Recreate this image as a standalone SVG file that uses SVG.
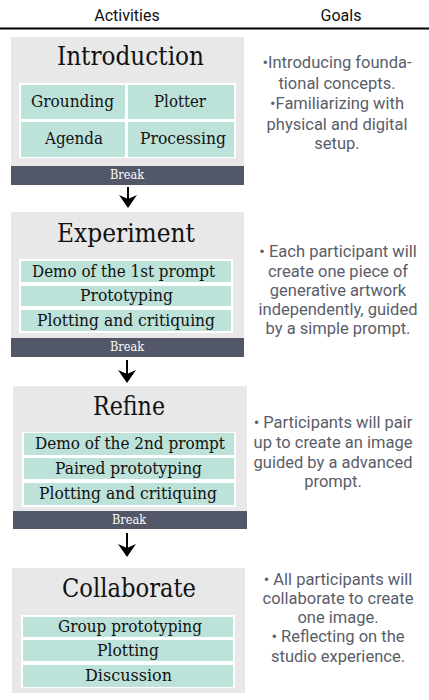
<svg xmlns="http://www.w3.org/2000/svg" width="429" height="700" viewBox="0 0 429 700">
<defs>
<style>
.bg{fill:#e8e8e8}
.wt{fill:#ffffff}
.cell{fill:#bde2da}
.brk{fill:#535869}
.hd{font-family:Roboto,"Liberation Sans",sans-serif;font-size:16px;fill:#111;text-anchor:middle}
.ttl{font-family:"DejaVu Serif","Liberation Serif",serif;font-size:26px;fill:#111;text-anchor:middle}
.act{font-family:"DejaVu Serif","Liberation Serif",serif;font-size:16.5px;fill:#111;text-anchor:middle}
.btx{font-family:"DejaVu Serif","Liberation Serif",serif;font-size:12px;fill:#fff;text-anchor:middle}
.goal{font-family:Roboto,"Liberation Sans",sans-serif;font-size:16.5px;fill:#5a5d69;text-anchor:middle}
.arr{stroke:#000;stroke-width:2;fill:none}
</style>
</defs>
<rect width="429" height="700" fill="#fff"/>
<g id="header">
<text class="hd" x="127" y="21">Activities</text>
<text class="hd" x="341" y="21">Goals</text>
<line x1="0" y1="28.5" x2="429" y2="28.5" stroke="#000" stroke-width="2"/>
</g>
<g id="introduction">
<rect class="bg" x="11" y="37" width="233" height="130"/>
<text class="ttl" x="130.5" y="65" textLength="147" lengthAdjust="spacingAndGlyphs">Introduction</text>
<rect class="wt" x="19" y="83" width="217" height="75"/>
<rect class="cell" x="21" y="85" width="104" height="34"/>
<rect class="cell" x="128" y="85" width="106" height="34"/>
<rect class="cell" x="21" y="122" width="104" height="35"/>
<rect class="cell" x="128" y="122" width="106" height="35"/>
<text class="act" x="72.5" y="107" textLength="83" lengthAdjust="spacingAndGlyphs">Grounding</text>
<text class="act" x="180" y="107" textLength="52" lengthAdjust="spacingAndGlyphs">Plotter</text>
<text class="act" x="74" y="144" textLength="58" lengthAdjust="spacingAndGlyphs">Agenda</text>
<text class="act" x="183" y="144" textLength="86" lengthAdjust="spacingAndGlyphs">Processing</text>
<rect class="brk" x="11" y="166" width="233" height="19"/>
<text class="btx" x="127" y="179" textLength="34" lengthAdjust="spacingAndGlyphs">Break</text>
</g>
<g id="introduction-goals">
<text class="goal" x="337" y="68">•Introducing founda-</text>
<text class="goal" x="337" y="89">tional concepts.</text>
<text class="goal" x="337" y="109">•Familiarizing with</text>
<text class="goal" x="337" y="130">physical and digital</text>
<text class="goal" x="337" y="149">setup.</text>
</g>
<g id="experiment">
<rect class="bg" x="11" y="212" width="233" height="127"/>
<text class="ttl" x="126" y="242" textLength="138" lengthAdjust="spacingAndGlyphs">Experiment</text>
<rect class="wt" x="19" y="259" width="214" height="74"/>
<rect class="cell" x="21" y="261" width="210" height="21"/>
<rect class="cell" x="21" y="286" width="210" height="20"/>
<rect class="cell" x="21" y="310" width="210" height="21"/>
<text class="act" x="123.5" y="277" textLength="183" lengthAdjust="spacingAndGlyphs">Demo of the 1st prompt</text>
<text class="act" x="126.5" y="301" textLength="93" lengthAdjust="spacingAndGlyphs">Prototyping</text>
<text class="act" x="126" y="326" textLength="178" lengthAdjust="spacingAndGlyphs">Plotting and critiquing</text>
<rect class="brk" x="11" y="338" width="233" height="19"/>
<text class="btx" x="127" y="351" textLength="34" lengthAdjust="spacingAndGlyphs">Break</text>
</g>
<g id="experiment-goals">
<text class="goal" x="338" y="257">• Each participant will</text>
<text class="goal" x="338" y="277">create one piece of</text>
<text class="goal" x="338" y="296">generative artwork</text>
<text class="goal" x="338" y="315">independently, guided</text>
<text class="goal" x="338" y="334">by a simple prompt.</text>
</g>
<g id="refine">
<rect class="bg" x="13" y="386" width="234" height="126"/>
<text class="ttl" x="129" y="415" textLength="72" lengthAdjust="spacingAndGlyphs">Refine</text>
<rect class="wt" x="22" y="432" width="214" height="75"/>
<rect class="cell" x="24" y="433" width="210" height="22"/>
<rect class="cell" x="24" y="458" width="210" height="21"/>
<rect class="cell" x="24" y="483" width="210" height="22"/>
<text class="act" x="130" y="449" textLength="190" lengthAdjust="spacingAndGlyphs">Demo of the 2nd prompt</text>
<text class="act" x="128.5" y="474" textLength="147" lengthAdjust="spacingAndGlyphs">Paired prototyping</text>
<text class="act" x="128" y="499" textLength="178" lengthAdjust="spacingAndGlyphs">Plotting and critiquing</text>
<rect class="brk" x="13" y="511" width="234" height="18"/>
<text class="btx" x="129" y="524" textLength="34" lengthAdjust="spacingAndGlyphs">Break</text>
</g>
<g id="refine-goals">
<text class="goal" x="333" y="428">• Participants will pair</text>
<text class="goal" x="333" y="448">up to create an image</text>
<text class="goal" x="333" y="468">guided by a advanced</text>
<text class="goal" x="333" y="487">prompt.</text>
</g>
<g id="collaborate">
<rect class="bg" x="12" y="568" width="233" height="125"/>
<text class="ttl" x="129" y="597" textLength="134" lengthAdjust="spacingAndGlyphs">Collaborate</text>
<rect class="wt" x="21" y="615" width="214" height="73"/>
<rect class="cell" x="23" y="617" width="210" height="20"/>
<rect class="cell" x="23" y="640" width="210" height="21"/>
<rect class="cell" x="23" y="665" width="210" height="22"/>
<text class="act" x="130" y="632" textLength="144" lengthAdjust="spacingAndGlyphs">Group prototyping</text>
<text class="act" x="128" y="656" textLength="62" lengthAdjust="spacingAndGlyphs">Plotting</text>
<text class="act" x="128.5" y="681" textLength="87" lengthAdjust="spacingAndGlyphs">Discussion</text>
</g>
<g id="collaborate-goals">
<text class="goal" x="338" y="585">• All participants will</text>
<text class="goal" x="338" y="604">collaborate to create</text>
<text class="goal" x="338" y="623">one image.</text>
<text class="goal" x="338" y="642">• Reflecting on the</text>
<text class="goal" x="338" y="662">studio experience.</text>
</g>
<g id="connectors">
<path class="arr" d="M128,187 V201"/>
<path d="M119,195 L128,199 L137,195 L128,208 Z" fill="#000"/>
<path class="arr" d="M127,360 V376"/>
<path d="M118,370 L127,374 L136,370 L127,383 Z" fill="#000"/>
<path class="arr" d="M127,533 V550"/>
<path d="M118,544 L127,548 L136,544 L127,557 Z" fill="#000"/>
</g>
</svg>
